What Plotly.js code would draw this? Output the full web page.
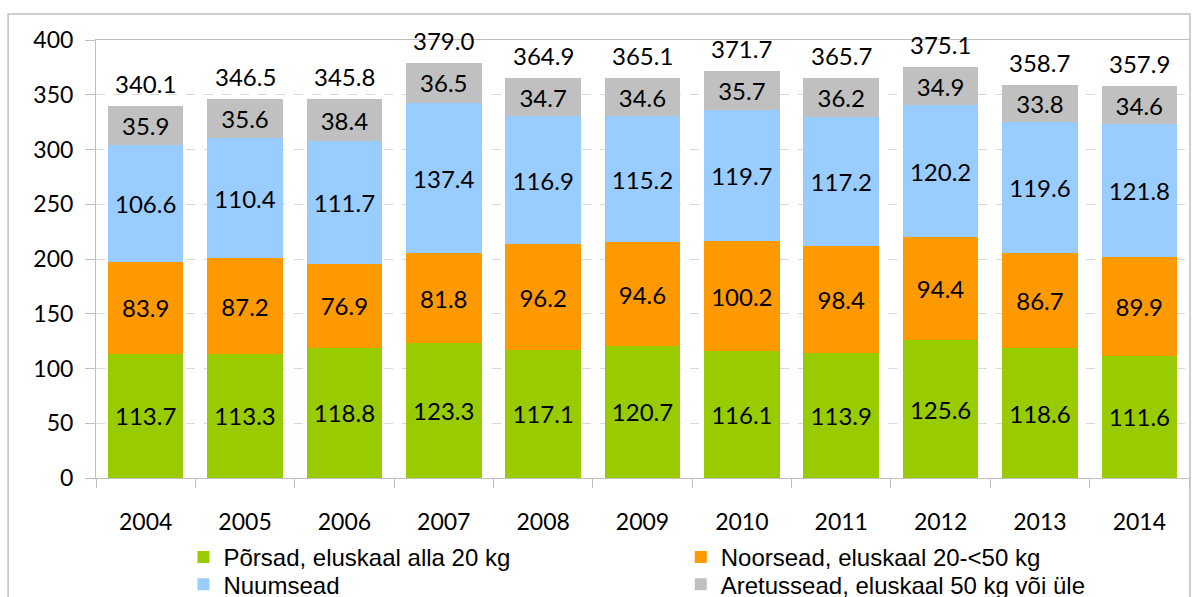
<!DOCTYPE html>
<html>
<head>
<meta charset="utf-8">
<script src="https://cdn.plot.ly/plotly-3.0.1.min.js"></script>
<style>html,body{margin:0;padding:0;background:#fff;}#chart{width:1196px;height:597px;}</style>
</head>
<body>
<div id="chart"></div>
<script>
var years = ['2004','2005','2006','2007','2008','2009','2010','2011','2012','2013','2014'];
var porsad = [113.7,113.3,118.8,123.3,117.1,120.7,116.1,113.9,125.6,118.6,111.6];
var noorsead = [83.9,87.2,76.9,81.8,96.2,94.6,100.2,98.4,94.4,86.7,89.9];
var nuumsead = [106.6,110.4,111.7,137.4,116.9,115.2,119.7,117.2,120.2,119.6,121.8];
var aretussead = [35.9,35.6,38.4,36.5,34.7,34.6,35.7,36.2,34.9,33.8,34.6];
var totals = [340.1,346.5,345.8,379.0,364.9,365.1,371.7,365.7,375.1,358.7,357.9];
var seriesNames = ['Põrsad, eluskaal alla 20 kg','Noorsead, eluskaal 20-<50 kg','Nuumsead','Aretussead, eluskaal 50 kg või üle'];
var colors = ['#99CC00','#FF9900','#99CCFF','#C0C0C0'];

var FONT = 'Lato, "Open Sans", sans-serif';
var LFONT = '"Liberation Sans", Arial, sans-serif';
var series = [porsad, noorsead, nuumsead, aretussead];
var legendIds = ['legend','legend2','legend3','legend4'];
var traces = series.map(function(vals, i){
  return {
    type:'bar', name: seriesNames[i], x: years, y: vals, legend: legendIds[i],
    marker:{color: colors[i], line:{width:0}},
    text: vals.map(function(v){return v.toFixed(1);}),
    textposition:'inside', insidetextanchor:'middle', textangle:0,
    textfont:{family:FONT, size:24, color:'#000'},
    constraintext:'none',
    hoverinfo:'none'
  };
});

// total labels above each stack (category axis: serial index of each year)
var annotations = totals.map(function(t, i){
  return {x: i, y: t, xref:'x', yref:'y', text: t.toFixed(1), showarrow:false,
    yanchor:'bottom', yshift:6, font:{family:FONT, size:24, color:'#000'}};
});

function leg(x, y){
  return {orientation:'h', x:x, xanchor:'left', y:y, yanchor:'top',
    font:{family:LFONT, size:24, color:'#000'}, bgcolor:'rgba(0,0,0,0)', itemclick:false};
}

var layout = {
  width:1196, height:597,
  margin:{l:96, r:7, t:40, b:119, autoexpand:false},
  paper_bgcolor:'#fff', plot_bgcolor:'#fff',
  barmode:'stack', bargap:0.24,
  showlegend:true,
  legend: leg(0.080, -0.130),
  legend2: leg(0.535, -0.130),
  legend3: leg(0.080, -0.192),
  legend4: leg(0.535, -0.192),
  annotations: annotations,
  xaxis:{type:'category', range:[-0.5,10.5], autorange:false, showgrid:false, showline:true, linecolor:'#BFBFBF', linewidth:1,
    mirror:true, ticks:'outside', tickson:'boundaries', ticklen:9, tickcolor:'#BFBFBF',
    tickangle:0,
    tickfont:{family:FONT, size:23, color:'#000'}, ticklabelstandoff:23, fixedrange:true},
  yaxis:{range:[0,400], autorange:false, tickvals:[0,50,100,150,200,250,300,350,400], showgrid:true,
    gridcolor:'#D9D9D9', griddash:'dash', gridwidth:1, zeroline:false,
    showline:true, linecolor:'#BFBFBF', ticks:'outside', ticklen:10, tickcolor:'#BFBFBF',
    tickfont:{family:FONT, size:23, color:'#000'}, ticklabelstandoff:7, fixedrange:true},
  shapes:[{type:'rect', xref:'paper', yref:'paper', x0:-0.0804, x1:1.0009, y0:-0.3, y1:1.0594,
    line:{color:'#BFBFBF', width:1.5}, fillcolor:'rgba(0,0,0,0)', layer:'below'}]
};

Plotly.newPlot('chart', traces, layout, {displayModeBar:false, staticPlot:true});
</script>
</body>
</html>
